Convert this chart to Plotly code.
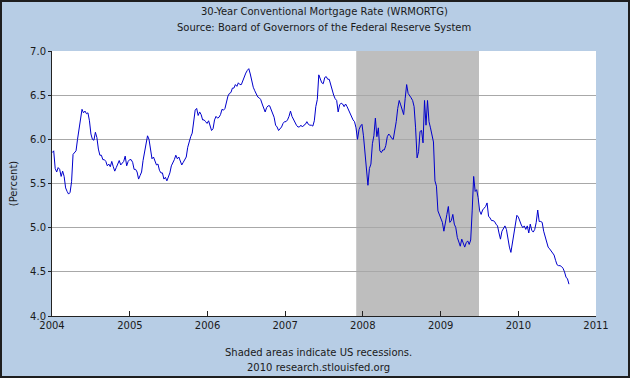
import pandas as pd
import plotly.graph_objects as go

# Weekly 30-year conventional mortgage rate (percent), one list per year (Fridays)
rate_2004 = [5.85, 5.87, 5.67, 5.63, 5.68, 5.66, 5.58, 5.64, 5.58, 5.45, 5.41, 5.38, 5.40,
             5.52, 5.83, 5.85, 5.87, 6.00, 6.12, 6.27, 6.34, 6.30, 6.32, 6.29, 6.30, 6.21,
             6.06, 6.00, 5.99, 6.08, 6.02, 5.89, 5.82, 5.82, 5.77, 5.77, 5.75, 5.70, 5.72,
             5.69, 5.75, 5.69, 5.64, 5.68, 5.72, 5.76, 5.71, 5.73, 5.75, 5.81, 5.70, 5.75, 5.77]
rate_2005 = [5.77, 5.74, 5.66, 5.66, 5.63, 5.55, 5.59, 5.63, 5.76, 5.87, 5.93, 6.04,
             6.00, 5.91, 5.78, 5.80, 5.75, 5.71, 5.72, 5.65, 5.62, 5.62, 5.55, 5.57, 5.53,
             5.58, 5.62, 5.70, 5.73, 5.77, 5.82, 5.78, 5.80, 5.75, 5.71, 5.74, 5.77, 5.80, 5.91,
             5.98, 6.03, 6.07, 6.22, 6.33, 6.35, 6.27, 6.31, 6.28, 6.22, 6.22, 6.20, 6.18]
rate_2006 = [6.21, 6.15, 6.10, 6.12, 6.22, 6.26, 6.24, 6.25, 6.28, 6.34, 6.33, 6.35, 6.43,
             6.49, 6.52, 6.53, 6.58, 6.58, 6.62, 6.60, 6.64, 6.62, 6.62, 6.67, 6.71, 6.75,
             6.78, 6.80, 6.74, 6.64, 6.59, 6.55, 6.52, 6.48, 6.47, 6.45, 6.40, 6.35, 6.31,
             6.36, 6.38, 6.38, 6.34, 6.30, 6.25, 6.16, 6.14, 6.10, 6.12, 6.14, 6.18, 6.20]
rate_2007 = [6.20, 6.22, 6.26, 6.32, 6.26, 6.22, 6.20, 6.16, 6.14, 6.14, 6.16, 6.14, 6.16,
             6.17, 6.20, 6.17, 6.16, 6.16, 6.15, 6.21, 6.37, 6.45, 6.73, 6.69, 6.64, 6.63,
             6.70, 6.71, 6.68, 6.68, 6.61, 6.57, 6.50, 6.46, 6.44, 6.31, 6.39, 6.41, 6.40,
             6.37, 6.40, 6.37, 6.33, 6.28, 6.25, 6.22, 6.20, 6.13, 6.00, 6.11, 6.15, 6.17]
rate_2008 = [6.04, 5.87, 5.66, 5.48, 5.67, 5.72, 5.95, 6.04, 6.24, 6.03, 6.13, 5.87, 5.85,
             5.88, 5.88, 5.93, 6.03, 6.06, 6.04, 6.01, 6.00, 6.09, 6.20, 6.35, 6.44, 6.39,
             6.33, 6.28, 6.46, 6.62, 6.52, 6.50, 6.47, 6.44, 6.37, 6.13, 5.79, 5.86, 6.09,
             6.10, 5.96, 6.44, 6.16, 6.44, 6.20, 6.13, 6.04, 5.97, 5.53, 5.47, 5.19, 5.14]
rate_2009 = [5.10, 5.06, 4.96, 5.08, 5.15, 5.24, 5.06, 5.08, 5.15, 5.04, 5.00, 4.89, 4.85,
             4.79, 4.87, 4.81, 4.78, 4.83, 4.85, 4.81, 4.86, 5.19, 5.58, 5.41, 5.43, 5.34,
             5.19, 5.15, 5.20, 5.22, 5.24, 5.28, 5.13, 5.11, 5.08, 5.08, 5.07, 5.04, 5.02,
             4.94, 4.87, 4.96, 5.00, 5.02, 4.98, 4.85, 4.78, 4.72, 4.83, 4.91, 5.00, 5.14]
rate_2010 = [5.12, 5.07, 5.03, 5.00, 5.02, 4.98, 5.02, 4.94, 5.04, 4.97, 4.95, 4.98, 5.06,
             5.20, 5.07, 5.07, 5.06, 4.96, 4.90, 4.83, 4.78, 4.76, 4.74, 4.72, 4.69, 4.63,
             4.58, 4.57, 4.57, 4.56, 4.54, 4.50, 4.44, 4.42, 4.36]

years = [2004, 2005, 2006, 2007, 2008, 2009, 2010]
rates_by_year = [rate_2004, rate_2005, rate_2006, rate_2007, rate_2008, rate_2009, rate_2010]

recession_start = "2007-12-01"
recession_end = "2009-06-30"

x_tick_values = ["2004-01-01", "2005-01-01", "2006-01-01", "2007-01-01",
                 "2008-01-01", "2009-01-01", "2010-01-01", "2011-01-01"]
x_tick_labels = ["2004", "2005", "2006", "2007", "2008", "2009", "2010", "2011"]
y_tick_values = [4.0, 4.5, 5.0, 5.5, 6.0, 6.5, 7.0]
y_tick_labels = ["4.0", "4.5", "5.0", "5.5", "6.0", "6.5", "7.0"]

dates, values = [], []
for yr, vals in zip(years, rates_by_year):
    d = pd.date_range(f"{yr}-01-01", f"{yr}-12-31", freq="W-FRI")[:len(vals)]
    dates.extend(d)
    values.extend(vals)

FONT = "DejaVu Sans"
BG = "#b7cde5"

fig = go.Figure()
fig.add_trace(go.Scatter(x=dates, y=values, mode="lines",
                         line=dict(color="#0000cc", width=1), hoverinfo="x+y"))

fig.add_shape(type="rect", xref="x", yref="paper", x0=recession_start, x1=recession_end,
              y0=0, y1=1, fillcolor="#bebebe", line=dict(width=0), layer="below")

L, R, T, B = 52, 34, 51, 62
W, H = 630, 378
pw, ph = W - L - R, H - T - B
# outer dark frame
fig.add_shape(type="rect", xref="paper", yref="paper",
              x0=(-L + 1) / pw, x1=(W - L - 1) / pw, y0=(-B + 1) / ph, y1=(H - B - 1) / ph,
              line=dict(color="#1e1e1e", width=2), fillcolor="rgba(0,0,0,0)")

fig.update_layout(
    width=W, height=H,
    margin=dict(l=L, r=R, t=T, b=B),
    paper_bgcolor=BG, plot_bgcolor="white",
    showlegend=False,
    font=dict(family=FONT, size=10, color="#1a1a1a"),
    xaxis=dict(type="date", range=["2004-01-01", "2011-01-01"],
               tickvals=x_tick_values, ticktext=x_tick_labels,
               showgrid=False, zeroline=False,
               showline=True, linecolor="#222222", linewidth=1,
               ticks="inside", ticklen=5, tickcolor="#222222",
               tickfont=dict(family=FONT, size=10, color="#1a1a1a")),
    yaxis=dict(range=[4.0, 7.0], tickvals=y_tick_values, ticktext=y_tick_labels,
               showgrid=True, gridcolor="#a8a8a8", gridwidth=1, zeroline=False,
               showline=True, linecolor="#222222", linewidth=1,
               ticks="outside", ticklen=3, tickcolor="#222222",
               tickfont=dict(family=FONT, size=10, color="#1a1a1a"),
               title=dict(text="(Percent)", font=dict(family=FONT, size=10, color="#1a1a1a"),
                          standoff=10)),
)

annos = [
    ("30-Year Conventional Mortgage Rate (WRMORTG)", 0.5, (H - 11) - B),
    ("Source: Board of Governors of the Federal Reserve System", 0.5, (H - 27) - B),
    ("Shaded areas indicate US recessions.", (318 - L) / pw, (H - 352) - B),
    ("2010 research.stlouisfed.org", (318 - L) / pw, (H - 367) - B),
]
for text, ax, ay in annos:
    fig.add_annotation(text=text, xref="paper", yref="paper", x=ax, y=ay / ph,
                       showarrow=False, xanchor="center", yanchor="middle",
                       font=dict(family=FONT, size=10, color="#1a1a1a"))

fig.write_html("out.html", config={"displayModeBar": False},
               post_script="document.body.style.margin='0';document.body.style.overflow='hidden';")
